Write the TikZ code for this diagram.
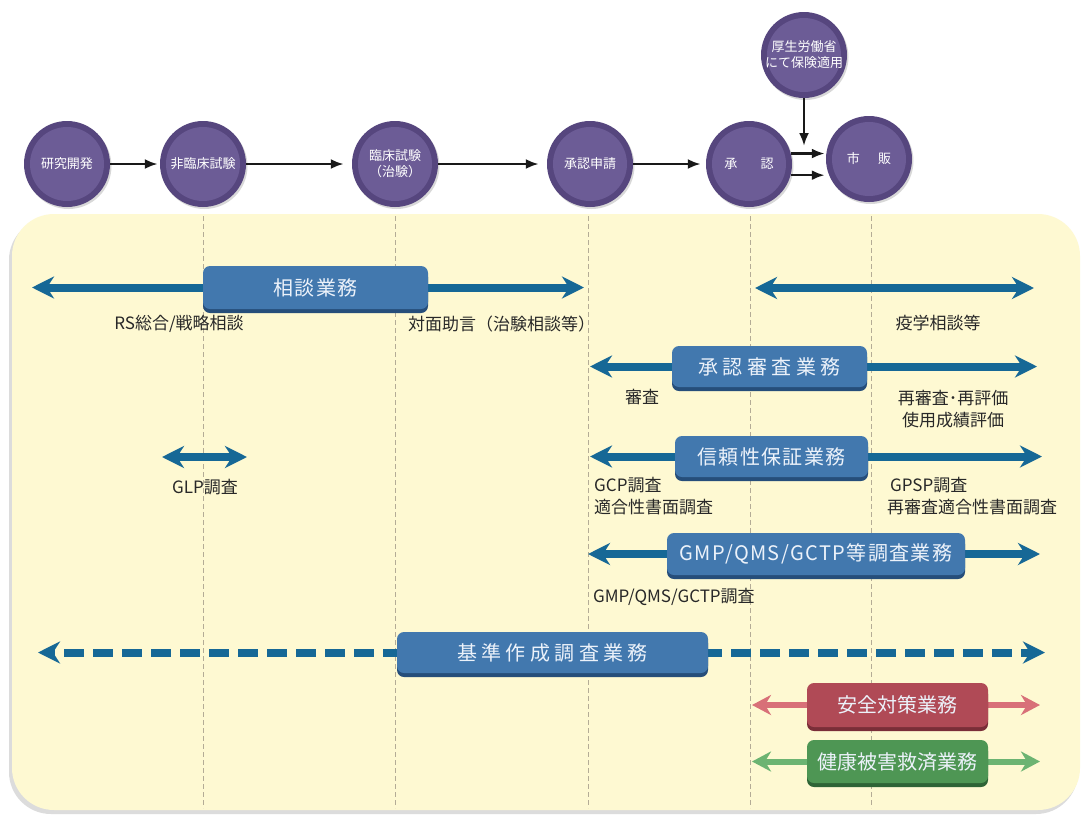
\documentclass[tikz,border=0pt]{standalone}
\usepackage{fontspec}
\setmainfont{Noto Sans CJK JP}
\newfontfamily\boxW{Noto Sans CJK JP}[LetterSpace=22]
\newfontfamily\boxN{Noto Sans CJK JP}[LetterSpace=7]
\newfontfamily\boxP{Noto Sans CJK JP}
\usetikzlibrary{arrows.meta,shadows,calc}
\pgfdeclarelayer{back}
\pgfdeclarelayer{bg}
\pgfsetlayers{back,bg,main}
\definecolor{panelY}{RGB}{254,249,210}
\definecolor{vline}{RGB}{180,172,150}
\definecolor{circRim}{RGB}{86,70,126}
\definecolor{circIn}{RGB}{108,92,150}
\definecolor{arrowBlue}{RGB}{22,104,150}
\definecolor{boxBlue}{RGB}{66,120,174}
\definecolor{boxBlueD}{RGB}{38,78,122}
\definecolor{boxRed}{RGB}{176,74,86}
\definecolor{boxRedD}{RGB}{122,46,56}
\definecolor{arrRed}{RGB}{216,112,120}
\definecolor{boxGreen}{RGB}{78,150,84}
\definecolor{boxGreenD}{RGB}{46,100,54}
\definecolor{arrGreen}{RGB}{108,180,114}
\definecolor{txt}{RGB}{40,40,40}
\definecolor{boxTxt}{RGB}{236,242,250}
\begin{document}
\begin{tikzpicture}[x=1pt,y=-1pt,
  stage/.style={circle, minimum size=86pt, inner sep=0pt, fill=circRim, text=white,
    font=\fontsize{13}{16}\selectfont, align=center,
    drop shadow={shadow xshift=1.5pt,shadow yshift=-2pt,opacity=0.3},
    path picture={\fill[circIn] (path picture bounding box.center) circle (37pt);}},
  flow/.style={line width=2.6pt, draw=black!90, >={Latex[length=13pt,width=10pt]}, ->},
  bizbox/.style={rounded corners=7pt, inner sep=0pt, text=boxTxt},
  bluebox/.style={bizbox, fill=boxBlue,
    drop shadow={shadow xshift=0pt,shadow yshift=-4pt,fill=boxBlueD,opacity=1}},
  redbox/.style={bizbox, fill=boxRed, font=\boxP\fontsize{20}{24}\selectfont,
    drop shadow={shadow xshift=0pt,shadow yshift=-4pt,fill=boxRedD,opacity=1}},
  greenbox/.style={bizbox, fill=boxGreen, font=\boxP\fontsize{20}{24}\selectfont,
    drop shadow={shadow xshift=0pt,shadow yshift=-4pt,fill=boxGreenD,opacity=1}},
  wide/.style={font=\boxW\fontsize{20}{24}\selectfont},
  narrow/.style={font=\boxN\fontsize{20}{24}\selectfont},
  barr/.style={line width=8pt, draw=arrowBlue, shorten <=-6pt,
    >={Stealth[length=22pt,width=22pt,inset=7pt]}, ->},
  barr2/.style={line width=8pt, draw=arrowBlue,
    >={Stealth[length=22pt,width=22pt,inset=7pt]}, <->},
  darr/.style={barr, dash pattern=on 20pt off 9pt},
  rarr/.style={line width=6pt, draw=arrRed, shorten <=-6pt,
    >={Stealth[length=19pt,width=20pt,inset=6pt]}, ->},
  garr/.style={line width=6pt, draw=arrGreen, shorten <=-6pt,
    >={Stealth[length=19pt,width=20pt,inset=6pt]}, ->},
  lab/.style={text=txt, font=\fontsize{17}{22.5}\selectfont, inner sep=0pt},
  vdash/.style={draw=vline, line width=0.8pt, dash pattern=on 5pt off 3pt}
]
\useasboundingbox (0,0) rectangle (1082,817);
\begin{pgfonlayer}{back}
  \fill[white] (0,0) rectangle (1082,817);
  \fill[black!30, opacity=0.45, rounded corners=42pt] (9,218) rectangle (1078,814);
  \fill[panelY, rounded corners=42pt] (12,214) rectangle (1080,810);
  \foreach \xx in {203,395,588,750,871} \draw[vdash] (\xx,216) -- (\xx,808);
\end{pgfonlayer}

% process circles
\node[stage] (kenkyu) at (67,164) {研究開発};
\node[stage] (hirin) at (203,164) {非臨床試験};
\node[stage] (rinsho) at (395,164) {臨床試験\\（治験）};
\node[stage] (shinsei) at (590,164) {承認申請};
\node[stage] (shonin) at (749,164) {承\hspace{1.8em}認};
\node[stage] (shihan) at (869,159) {市\hspace{1.4em}販};
\node[stage] (kosei) at (804,55) {厚生労働省\\にて保険適用};
\coordinate (kend) at (804,146);

\draw[flow, shorten >=2pt] (kenkyu) -- (hirin);
\draw[flow, shorten >=8pt] (hirin) -- (rinsho);
\draw[flow, shorten >=8pt] (rinsho) -- (shinsei);
\draw[flow, shorten >=5pt] (shinsei) -- (shonin);
\draw[flow, shorten >=1pt] (shonin.14) -- (shihan.west |- shonin.14);
\draw[flow, shorten >=1pt] (shonin.-15) -- (shihan.west |- shonin.-15);
\draw[flow] (kosei) -- (kend);

% business boxes
\node[bluebox, narrow, minimum width=225pt, minimum height=43pt] (sodan) at (315.5,287.5) {相談業務};
\node[bluebox, wide, minimum width=195pt, minimum height=41pt] (shinsagyo) at (769.5,366.5) {承認審査業務};
\node[bluebox, narrow, minimum width=193pt, minimum height=41pt] (shinrai) at (771.5,456.5) {信頼性保証業務};
\node[bluebox, narrow, minimum width=298pt, minimum height=42pt] (gmp) at (816,554) {GMP/QMS/GCTP等調査業務};
\node[bluebox, wide, minimum width=311pt, minimum height=41pt] (kijun) at (552.5,652.5) {基準作成調査業務};
\node[redbox, minimum width=181pt, minimum height=44pt] (anzen) at (897.5,705) {安全対策業務};
\node[greenbox, minimum width=181pt, minimum height=43pt] (kenko) at (897.5,761.5) {健康被害救済業務};

\coordinate (sodanL) at (32,287.5);   \coordinate (sodanR) at (584,287.5);
\coordinate (ekiL) at (755,288);      \coordinate (ekiR) at (1034,288);
\coordinate (shinsaL) at (590,366.5); \coordinate (shinsaR) at (1037,366.5);
\coordinate (shinraiL) at (590,456.5);\coordinate (shinraiR) at (1042,456.5);
\coordinate (glpL) at (162,457);      \coordinate (glpR) at (247,457);
\coordinate (gmpL) at (588,554);      \coordinate (gmpR) at (1040,554);
\coordinate (kijunL) at (38,652.5);   \coordinate (kijunR) at (1045,652.5);
\coordinate (anzenL) at (752,705);    \coordinate (anzenR) at (1040,705);
\coordinate (kenkoL) at (752,761.5);  \coordinate (kenkoR) at (1040,761.5);

\begin{pgfonlayer}{bg}
  \draw[barr] (sodan.west) -- (sodanL);
  \draw[barr] (sodan.east) -- (sodanR);
  \draw[barr2] (ekiL) -- (ekiR);
  \draw[barr] (shinsagyo.west) -- (shinsaL);
  \draw[barr] (shinsagyo.east) -- (shinsaR);
  \draw[barr] (shinrai.west) -- (shinraiL);
  \draw[barr] (shinrai.east) -- (shinraiR);
  \draw[barr2] (glpL) -- (glpR);
  \draw[barr] (gmp.west) -- (gmpL);
  \draw[barr] (gmp.east) -- (gmpR);
  \draw[darr] (kijun.west) -- (kijunL);
  \draw[darr] (kijun.east) -- (kijunR);
  \draw[rarr] (anzen.west) -- (anzenL);
  \draw[rarr] (anzen.east) -- (anzenR);
  \draw[garr] (kenko.west) -- (kenkoL);
  \draw[garr] (kenko.east) -- (kenkoR);
\end{pgfonlayer}

% labels
\node[lab] (rs) at (179,324) {RS総合/戦略相談};
\node[lab, anchor=west] (taimen) at (408,324) {対面助言（治験相談等）};
\node[lab] (ekigaku) at (938,323) {疫学相談等};
\node[lab] (shinsa) at (642,397) {審査};
\node[lab, align=center] (saishin) at (953,409) {再審査･再評価\\使用成績評価};
\node[lab] (glp) at (205,487) {GLP調査};
\node[lab, align=left, anchor=west] (gcp) at (594,496) {GCP調査\\適合性書面調査};
\node[lab, align=left, anchor=west] (gpsp) at (887,496) {\hspace{3pt}GPSP調査\\再審査適合性書面調査};
\node[lab, anchor=west] (gmplab) at (593,597) {GMP/QMS/GCTP調査};
\end{tikzpicture}
\end{document}
